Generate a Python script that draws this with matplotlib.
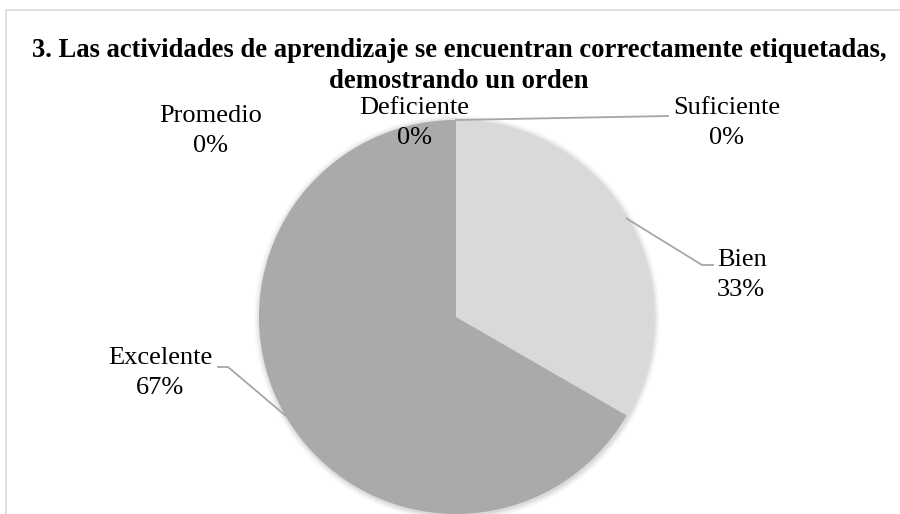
import numpy as np
import matplotlib
matplotlib.use("Agg")
import matplotlib.pyplot as plt
from matplotlib.patches import Circle

# Datos de la encuesta (pregunta 3)
categorias = ["Deficiente", "Suficiente", "Bien", "Excelente", "Promedio"]
valores = [0, 0, 1, 2, 0]
colores = ["#7f7f7f", "#bfbfbf", "#d9d9d9", "#aaaaaa", "#8c8c8c"]
titulo = ("3. Las actividades de aprendizaje se encuentran correctamente etiquetadas,\n"
          "demostrando un orden")

W, H = 900, 514
plt.rcParams['font.family'] = ['Liberation Serif', 'DejaVu Serif']

fig = plt.figure(figsize=(W / 100, H / 100), dpi=100)
ax = fig.add_axes([0, 0, 1, 1])

def py(y):
    # pasar coordenada de pixel (desde arriba) a datos
    return H - y

centro = (456, py(317))
radio = 197

# sombra suave alrededor del pastel
for i, a in enumerate([0.05, 0.04, 0.03, 0.02]):
    ax.add_patch(Circle((centro[0] + 1, centro[1] - 1), radio + 1.5 + i * 1.5,
                        color="black", alpha=a, lw=0, zorder=0))

wedges, _ = ax.pie(valores, colors=colores, startangle=90, counterclock=False,
                   center=centro, radius=radio, frame=True,
                   wedgeprops=dict(linewidth=0, zorder=1))

ax.set_xlim(0, W)
ax.set_ylim(0, H)
ax.set_aspect("auto")
ax.axis("off")

# borde del area del grafico
ax.plot([6, 6, W], [py(H + 5), py(10), py(10)], color="#d9d9d9", lw=1.2, zorder=0)

total = sum(valores)
pct = [f"{round(v / total * 100)}%" for v in valores]

def borde(w):
    ang = np.deg2rad((w.theta1 + w.theta2) / 2)
    return centro[0] + radio * np.cos(ang), centro[1] + radio * np.sin(ang)

fs = 19
ls = 1.45
gris = "#a6a6a6"

# etiquetas
ax.text(414, py(123), f"{categorias[0]}\n{pct[0]}", ha="center", va="center",
        fontsize=fs, linespacing=ls)
ax.text(211, py(131), f"{categorias[4]}\n{pct[4]}", ha="center", va="center",
        fontsize=fs, linespacing=ls)
ax.text(727, py(123), f"{categorias[1]}\n{pct[1]}", ha="center", va="center",
        fontsize=fs, linespacing=ls)
ax.text(717, py(275), f"{categorias[2]}\n{pct[2]}", ha="left", va="center",
        fontsize=fs, linespacing=ls)
ax.text(160, py(373), f"{categorias[3]}\n{pct[3]}", ha="center", va="center",
        fontsize=fs, linespacing=ls)

# lineas guia
x0, y0 = borde(wedges[1])
ax.plot([x0, 668], [y0, py(116)], color=gris, lw=1.3, zorder=3)
x0, y0 = borde(wedges[2])
ax.plot([x0, 702, 713], [y0, py(265), py(265)], color=gris, lw=1.3, zorder=3)
x0, y0 = borde(wedges[3])
ax.plot([x0, 228, 218], [y0, py(367), py(367)], color=gris, lw=1.3, zorder=3)

fig.text(459 / W, 1 - 66 / H, titulo, ha="center", va="center", fontsize=19.2,
         fontweight="bold", linespacing=1.27)

fig.savefig("out.png", dpi=100)
